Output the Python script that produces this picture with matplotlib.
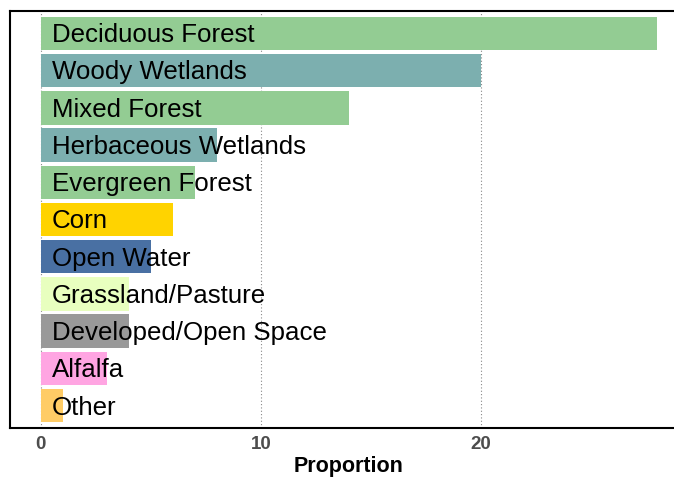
import matplotlib.pyplot as plt

# land cover classes, top to bottom
classes = ['Deciduous Forest', 'Woody Wetlands', 'Mixed Forest',
           'Herbaceous Wetlands', 'Evergreen Forest', 'Corn', 'Open Water',
           'Grassland/Pasture', 'Developed/Open Space', 'Alfalfa', 'Other']
proportion = [28, 20, 14, 8, 7, 6, 5, 4, 4, 3, 1]
colors = ['#93cc93', '#7cafaf', '#93cc93', '#7cafaf', '#93cc93', '#ffd300',
          '#4970a3', '#e8ffbf', '#999999', '#ffa5e2', '#ffcc66']
xticks = [0, 10, 20]

plt.rcParams['font.family'] = ['Liberation Sans', 'DejaVu Sans']

fig = plt.figure(figsize=(6.74, 4.79), dpi=100)
ax = fig.add_axes([10 / 674, 1 - 428 / 479, 678 / 674, 417 / 479])

n = len(classes)
ypos = [n - i for i in range(n)]
ax.barh(ypos, proportion, height=0.9, color=colors, zorder=2)
for y, name in zip(ypos, classes):
    ax.text(0.5, y - 0.05, name, ha='left', va='center', fontsize=18.6,
            color='black', zorder=3)

ax.set_xlim(-1.4, 29.4)
ax.set_ylim(0.4, n + 0.6)
ax.set_xticks(xticks)
ax.set_yticks([])
ax.tick_params(axis='x', length=0, pad=6, labelsize=13.5, labelcolor='#4d4d4d')
for lab in ax.get_xticklabels():
    lab.set_fontweight('bold')
ax.grid(axis='x', linestyle=(0, (1, 2)), color='#888888', linewidth=0.8, zorder=0)
ax.set_axisbelow(True)
for s in ax.spines.values():
    s.set_linewidth(1.5)
    s.set_color('black')
ax.set_xlabel('Proportion', fontsize=15.5, fontweight='bold', labelpad=2)

fig.savefig('out.png', dpi=100)
